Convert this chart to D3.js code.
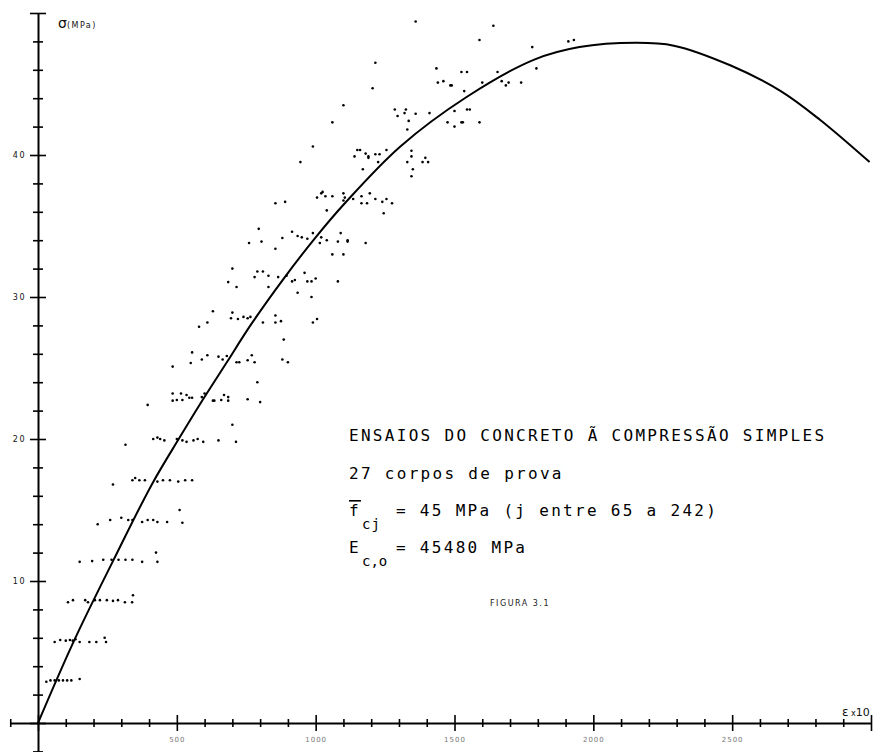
<!DOCTYPE html>
<html>
<head>
<meta charset="utf-8">
<script src="https://cdn.jsdelivr.net/npm/d3@7"></script>
<style>
  body { margin: 0; background: #fff; }
  svg { display: block; }
</style>
</head>
<body>
<svg id="chart" width="887" height="752"></svg>
<script>
// fitted stress-strain curve [strain x1e-6, MPa]
const curvePoints = [
  [0, 0], [130, 5.8], [270, 11.4], [410, 16.8], [510, 20.1], [585, 22.5],
  [680, 25.4], [765, 28.0], [885, 31.3], [1000, 34.2], [1105, 36.6],
  [1305, 40.6], [1545, 44.1], [1785, 46.7], [1950, 47.6], [2155, 47.9],
  [2290, 47.7], [2495, 46.3], [2675, 44.5], [2815, 42.5], [2995, 39.5]
];

// measured points of the 27 specimens, grouped roughly by load step
const testPoints = [
  // ~3 MPa
  [30, 2.9], [45, 3.0], [60, 3.0], [75, 3.0], [90, 3.0], [105, 3.0], [120, 3.0], [150, 3.1],
  // ~5.8
  [60, 5.7], [80, 5.85], [100, 5.8], [115, 5.85], [125, 5.8], [135, 5.9], [150, 5.7],
  [185, 5.7], [210, 5.7], [240, 6.0], [245, 5.7],
  // ~8.6
  [108, 8.5], [126, 8.65], [170, 8.65], [180, 8.5], [205, 8.65], [223, 8.65], [248, 8.65],
  [270, 8.6], [288, 8.65], [313, 8.5], [339, 8.5], [342, 9.0],
  // ~11.5
  [150, 11.35], [195, 11.4], [235, 11.5], [265, 11.5], [290, 11.5], [315, 11.5],
  [340, 11.5], [375, 11.35], [425, 12.0], [430, 11.35],
  // ~14.3
  [215, 14.0], [260, 14.3], [300, 14.45], [325, 14.3], [340, 14.3], [375, 14.15],
  [395, 14.3], [415, 14.3], [430, 14.15], [465, 14.15], [510, 15.0], [520, 14.1],
  // ~17.1
  [270, 16.8], [340, 17.1], [350, 17.25], [365, 17.1], [385, 17.1], [430, 17.0],
  [450, 17.1], [475, 17.1], [505, 17.0], [530, 17.1], [555, 17.1],
  // ~20
  [315, 19.6], [415, 20.0], [430, 20.1], [440, 20.0], [455, 19.9], [500, 20.0],
  [520, 19.9], [535, 19.8], [560, 19.9], [575, 20.0], [595, 19.8], [650, 19.9],
  [700, 21.0], [713, 19.8],
  // ~22.9
  [395, 22.4], [485, 23.2], [485, 22.7], [500, 22.75], [515, 23.2], [520, 22.75],
  [535, 23.1], [545, 22.9], [555, 22.9], [590, 22.95], [600, 23.2], [630, 22.7],
  [635, 22.7], [660, 22.75], [670, 23.1], [685, 22.95], [685, 22.7], [755, 22.8], [800, 22.6],
  // ~25.8
  [555, 26.1], [485, 25.1], [550, 25.35], [590, 25.6], [610, 25.9], [650, 25.8],
  [665, 25.6], [680, 25.85], [715, 25.4], [725, 25.4], [755, 25.55], [770, 25.9],
  [780, 25.4], [880, 25.6], [900, 25.4], [790, 24.0],
  // ~28.6
  [630, 29.0], [580, 27.9], [610, 28.2], [695, 28.5], [700, 28.9], [720, 28.45],
  [740, 28.6], [755, 28.5], [765, 28.6], [810, 28.2], [855, 28.7], [855, 28.2],
  [875, 28.3], [990, 28.2], [1005, 28.45], [885, 27.0],
  // ~31.5
  [700, 32.0], [685, 31.05], [715, 30.7], [780, 31.4], [790, 31.8], [810, 31.8],
  [830, 31.5], [865, 31.4], [895, 31.5], [915, 31.1], [925, 31.2], [960, 31.7],
  [970, 31.1], [985, 31.1], [1000, 31.3], [1080, 31.1], [935, 30.3], [985, 30.0], [830, 30.7],
  // ~34.4
  [760, 33.8], [795, 34.8], [805, 33.9], [855, 33.4], [880, 34.15], [915, 34.6],
  [935, 34.3], [950, 34.2], [970, 34.1], [990, 34.5], [1020, 34.2], [1015, 33.8],
  [1040, 34.0], [1060, 33.0], [1090, 34.5], [1080, 33.9], [1100, 33.0], [1115, 34.0],
  [1115, 33.9], [1180, 33.8], [855, 36.6], [890, 36.7], [1040, 36.1],
  // ~37.2
  [1005, 37.0], [1020, 37.3], [1025, 37.4], [1035, 37.1], [1060, 37.1], [1100, 37.3],
  [1105, 37.0], [1100, 36.8], [1135, 36.9], [1165, 37.1], [1165, 36.6], [1185, 36.6],
  [1195, 37.3], [1215, 36.9], [1240, 36.7], [1255, 36.9], [1275, 36.6], [1245, 35.9],
  // ~40
  [1140, 39.9], [1150, 40.35], [1160, 40.35], [1180, 40.1], [1190, 39.9], [1190, 39.8],
  [1215, 40.05], [1230, 40.05], [1255, 40.35], [1170, 39.0], [1225, 39.5], [1345, 40.3],
  [1345, 39.9], [1330, 39.5], [1350, 39.0], [1385, 39.5], [1395, 39.8], [1405, 39.5],
  [1345, 38.5], [945, 39.5], [990, 40.6], [1060, 42.3], [1100, 43.5],
  // ~43
  [1285, 43.2], [1295, 42.75], [1325, 43.2], [1320, 42.95], [1335, 42.4], [1330, 41.8],
  [1360, 42.9], [1410, 42.95], [1475, 42.3], [1500, 43.1], [1500, 42.0], [1525, 42.3],
  [1530, 42.3], [1545, 43.2], [1555, 43.2], [1590, 42.3],
  // ~45.8 and above
  [1435, 46.1], [1525, 45.85], [1545, 45.85], [1655, 45.85], [1440, 45.1], [1460, 45.2],
  [1485, 44.9], [1490, 44.9], [1535, 44.5], [1600, 45.1], [1670, 45.2], [1685, 44.9],
  [1695, 45.1], [1740, 45.1], [1795, 46.1], [1205, 44.7], [1215, 46.5],
  [1360, 49.4], [1640, 49.1], [1590, 48.1], [1780, 47.6], [1910, 48.0], [1930, 48.1]
];

const xLabels = [500, 1000, 1500, 2000, 2500];
const yLabels = [10, 20, 30, 40];

const svg = d3.select("#chart");

const x = d3.scaleLinear().domain([0, 3000]).range([38, 871]);
const y = d3.scaleLinear().domain([0, 50]).range([723, 13]);

// axes run a bit past the origin, like the original plot
const xAxisScale = d3.scaleLinear().domain([-100, 3000]).range([x(-100), x(3000)]);
const yAxisScale = d3.scaleLinear().domain([-2, 50]).range([y(-2), y(50)]);

const gx = svg.append("g")
  .attr("transform", `translate(0,${y(0)})`)
  .call(d3.axisBottom(xAxisScale)
    .tickValues(d3.range(-100, 3001, 100))
    .tickSizeOuter(0)
    .tickFormat((d) => (xLabels.includes(d) ? d : "")));

gx.select(".domain").attr("stroke", "#000").attr("stroke-width", 2);
gx.selectAll(".tick line")
  .attr("stroke", "#000")
  .attr("stroke-width", 1.6)
  .attr("y1", (d) => (d % 500 === 0 ? -8 : -4))
  .attr("y2", (d) => (d % 500 === 0 ? 8 : 4));
gx.selectAll(".tick text")
  .attr("y", 14)
  .attr("fill", "#777")
  .style("font-family", "DejaVu Sans")
  .style("font-size", "7px")
  .style("letter-spacing", "1px");

const gy = svg.append("g")
  .attr("transform", `translate(${x(0)},0)`)
  .call(d3.axisLeft(yAxisScale)
    .tickValues(d3.range(-2, 51, 2))
    .tickSizeOuter(0)
    .tickFormat((d) => (yLabels.includes(d) ? d : "")));

gy.select(".domain").attr("stroke", "#000").attr("stroke-width", 2);
gy.selectAll(".tick line")
  .attr("stroke", "#000")
  .attr("stroke-width", 1.6)
  .attr("x1", (d) => (d % 10 === 0 ? -8 : -5))
  .attr("x2", (d) => (d % 10 === 0 ? 8 : 5));
gy.selectAll(".tick text")
  .attr("x", -12)
  .attr("fill", "#111")
  .style("font-family", "DejaVu Sans")
  .style("font-size", "8px")
  .style("letter-spacing", "1.5px");

// axis titles
const yTitle = svg.append("text")
  .attr("x", x(0) + 20)
  .attr("y", y(50) + 15)
  .style("font-family", "DejaVu Sans")
  .attr("fill", "#111");
yTitle.append("tspan").style("font-size", "14px").text("σ");
yTitle.append("tspan").style("font-size", "8px").style("letter-spacing", "1.5px").text("(MPa)");

const xTitle = svg.append("text")
  .attr("x", x(3000) - 29)
  .attr("y", y(0) - 7)
  .style("font-family", "DejaVu Sans")
  .attr("fill", "#111");
xTitle.append("tspan").style("font-size", "12px").text("ε");
xTitle.append("tspan").style("font-size", "8px").text(" x");
xTitle.append("tspan").style("font-size", "11px").text("10");

// curve
const line = d3.line()
  .x((d) => x(d[0]))
  .y((d) => y(d[1]))
  .curve(d3.curveCatmullRom.alpha(0.5));

svg.append("path")
  .datum(curvePoints)
  .attr("d", line)
  .attr("fill", "none")
  .attr("stroke", "#000")
  .attr("stroke-width", 2);

// test points
svg.append("g")
  .selectAll("circle")
  .data(testPoints)
  .join("circle")
  .attr("cx", (d) => x(d[0]))
  .attr("cy", (d) => y(d[1]))
  .attr("r", 1.3)
  .attr("fill", "#000");

// caption block (typewriter style)
const note = svg.append("g")
  .style("font-family", "DejaVu Sans Mono")
  .style("font-size", "16px")
  .style("letter-spacing", "2.3px")
  .attr("fill", "#000");

note.append("text").attr("x", 349).attr("y", 441)
  .text("ENSAIOS DO CONCRETO Ã COMPRESSÃO SIMPLES");
note.append("text").attr("x", 349).attr("y", 479)
  .text("27 corpos de prova");

const fcj = note.append("text").attr("x", 349).attr("y", 516);
fcj.append("tspan").style("text-decoration", "overline").text("f");
fcj.append("tspan").attr("x", 362).attr("dy", 13)
  .style("font-size", "14px").style("letter-spacing", "1px").text("cj");
fcj.append("tspan").attr("x", 396).attr("dy", -13).text("= 45 MPa (j entre 65 a 242)");

const eco = note.append("text").attr("x", 349).attr("y", 553);
eco.append("tspan").text("E");
eco.append("tspan").attr("x", 362).attr("dy", 13)
  .style("font-size", "14px").style("letter-spacing", "0px").text("c,o");
eco.append("tspan").attr("x", 396).attr("dy", -13).text("= 45480 MPa");

svg.append("text")
  .attr("x", 490)
  .attr("y", 606)
  .style("font-family", "DejaVu Sans")
  .style("font-size", "8px")
  .style("letter-spacing", "1.5px")
  .attr("fill", "#222")
  .text("FIGURA 3.1");
</script>
</body>
</html>
